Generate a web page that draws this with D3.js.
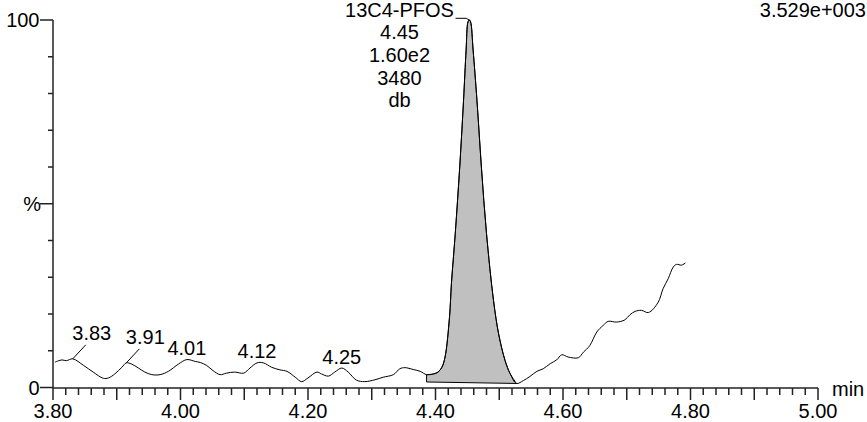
<!DOCTYPE html>
<html>
<head>
<meta charset="utf-8">
<script src="https://cdn.jsdelivr.net/npm/d3@7"></script>
<style>
  html, body { margin: 0; padding: 0; background: #fff; }
  svg { display: block; }
  text { font-family: "Liberation Sans", Arial, Helvetica, sans-serif; font-size: 20px; fill: #000; }
</style>
</head>
<body>
<svg id="chart" width="867" height="422"></svg>
<script>
// ---- data (retention time in min, relative intensity in %) ----
const times = [3.803,3.814,3.821,3.831,3.848,3.863,3.879,3.887,3.897,3.908,3.915,3.923,3.934,3.944,3.955,3.968,3.981,3.997,
  4.010,4.023,4.031,4.041,4.051,4.062,4.072,4.085,4.099,4.109,4.120,4.130,4.143,4.156,4.167,4.180,4.190,4.200,4.214,4.221,
  4.232,4.242,4.253,4.263,4.276,4.289,4.305,4.318,4.334,4.344,4.352,4.365,4.376,4.386,4.397,4.404,4.410,4.415,4.422,4.425,
  4.431,4.438,4.444,4.448,4.451,4.453,4.455,4.459,4.465,4.472,4.480,4.491,4.499,4.509,4.517,4.527,4.538,4.548,4.559,4.569,
  4.580,4.590,4.598,4.608,4.624,4.632,4.642,4.653,4.663,4.671,4.684,4.697,4.705,4.713,4.723,4.734,4.749,4.757,4.765,4.773,
  4.778,4.786,4.792];
const intensity = [6.9,7.5,7.3,7.8,6.0,4.2,2.5,2.6,3.7,5.5,6.7,6.4,5.3,4.2,3.5,3.5,4.4,6.4,
  7.6,7.1,6.8,6.0,4.6,3.5,3.9,4.2,3.9,5.3,6.7,6.7,5.5,4.8,4.4,2.8,1.6,2.6,4.2,3.7,
  3.1,4.2,5.3,4.2,2.0,1.6,2.1,2.8,3.5,5.1,5.4,4.9,4.4,3.5,3.7,4.2,5.5,8.3,19.2,28.3,
  41.9,60.0,78.2,91.8,99.5,100,99.5,91.8,78.2,60.0,41.9,23.7,14.6,7.4,3.8,1.1,1.9,3.0,4.4,5.1,
  6.5,7.5,8.9,8.3,8.1,9.6,11.4,15.1,16.9,18.0,17.8,18.4,19.8,20.7,21.0,20.4,23.1,26.9,29.6,32.8,
  33.5,33.3,33.9];

// integrated peak: start/end time and baseline levels (%)
const peakStart = 4.386, peakEnd = 4.527;
const baselineLevels = [1.5, 1.1];

// small peak apex labels
const peakLabelTimes = [3.831, 3.915, 4.010, 4.120, 4.253];
const peakLabelTexts = ["3.83", "3.91", "4.01", "4.12", "4.25"];

// main peak annotation
const mainPeakTime = 4.453;
const mainPeakLines = ["13C4-PFOS", "4.45", "1.60e2", "3480", "db"];
const scaleLabel = "3.529e+003";

// axis ticks
const xLabelTicks = [3.80, 4.00, 4.20, 4.40, 4.60, 4.80, 5.00];
const yLabelTicks = [0, 50, 100];
const yLabelTexts = ["0", "%", "100"];
const xUnit = "min";

// ---- drawing ----
const svg = d3.select("#chart");
const x = d3.scaleLinear().domain([3.80, 5.00]).range([53, 818]);
const y = d3.scaleLinear().domain([0, 100]).range([387.5, 20]);
const data = times.map((t, i) => ({ t, v: intensity[i] }));

const axisColor = "#222";

// integrated peak fill
const peakPts = data.filter(d => d.t >= peakStart - 1e-9 && d.t <= peakEnd + 1e-9);
const line = d3.line().x(d => x(d.t)).y(d => y(d.v)).curve(d3.curveCatmullRom.alpha(0.5));
const peakPath = line(peakPts) +
  "L" + x(peakEnd) + "," + y(baselineLevels[1]) +
  "L" + x(peakStart) + "," + y(baselineLevels[0]) + "Z";
svg.append("path").attr("d", peakPath)
  .attr("fill", "#c0c0c0").attr("stroke", "#000").attr("stroke-width", 1);

// trace
svg.append("path").datum(data).attr("d", line)
  .attr("fill", "none").attr("stroke", "#000").attr("stroke-width", 1);

// x axis
const xAxisG = svg.append("g");
xAxisG.append("line").attr("x1", x(3.80)).attr("x2", x(5.00))
  .attr("y1", 388).attr("y2", 388).attr("stroke", axisColor).attr("stroke-width", 1.5);
const xMinor = d3.range(0, 61).map(i => 3.80 + i * 0.02);
xMinor.forEach((t, i) => {
  const major = i % 5 === 0;
  xAxisG.append("line").attr("x1", x(t)).attr("x2", x(t))
    .attr("y1", 388).attr("y2", major ? 400 : 395)
    .attr("stroke", axisColor).attr("stroke-width", 1.5);
});
xAxisG.selectAll("text.xl").data(xLabelTicks).enter().append("text")
  .attr("x", d => x(d)).attr("y", 417.5).attr("text-anchor", "middle")
  .text(d => d.toFixed(2));
xAxisG.append("text").attr("x", 832).attr("y", 396).text(xUnit);

// y axis
const yAxisG = svg.append("g");
yAxisG.append("line").attr("x1", 53).attr("x2", 53)
  .attr("y1", y(100)).attr("y2", 388).attr("stroke", axisColor).attr("stroke-width", 1.5);
d3.range(0, 101, 10).forEach(v => {
  const major = v % 50 === 0;
  yAxisG.append("line").attr("x1", major ? 40 : 48).attr("x2", 53)
    .attr("y1", y(v)).attr("y2", y(v)).attr("stroke", axisColor).attr("stroke-width", 1.5);
});
yAxisG.selectAll("text.yl").data(yLabelTicks).enter().append("text")
  .attr("x", (d, i) => i === 1 ? 41 : 39.5).attr("y", d => y(d) + 7)
  .attr("text-anchor", "end")
  .text((d, i) => yLabelTexts[i]);

// small peak labels
const bisect = d3.bisector(d => d.t).left;
peakLabelTimes.forEach((t, i) => {
  const d = data[Math.min(bisect(data, t), data.length - 1)];
  const px = x(t), py = y(d.v);
  if (i < 2) {
    // labels lifted with a leader line
    svg.append("line").attr("x1", px).attr("y1", py)
      .attr("x2", px + 13).attr("y2", py - 14)
      .attr("stroke", "#000").attr("stroke-width", 1);
    svg.append("text").attr("x", px + 19).attr("y", py - 19)
      .attr("text-anchor", "middle").text(peakLabelTexts[i]);
  } else {
    svg.append("text").attr("x", px).attr("y", py - 4.5)
      .attr("text-anchor", "middle").text(peakLabelTexts[i]);
  }
});

// main peak annotation
const annX = 399.5;
mainPeakLines.forEach((s, i) => {
  svg.append("text").attr("x", annX).attr("y", 16.5 + i * 22.7)
    .attr("text-anchor", "middle").text(s);
});
svg.append("path")
  .attr("d", "M455.5,18.3L" + (x(mainPeakTime) - 3) + ",18.3L" + x(mainPeakTime) + "," + y(100))
  .attr("fill", "none").attr("stroke", "#000").attr("stroke-width", 1);

// scale label
svg.append("text").attr("x", 866).attr("y", 16.5).attr("text-anchor", "end").text(scaleLabel);
</script>
</body>
</html>
